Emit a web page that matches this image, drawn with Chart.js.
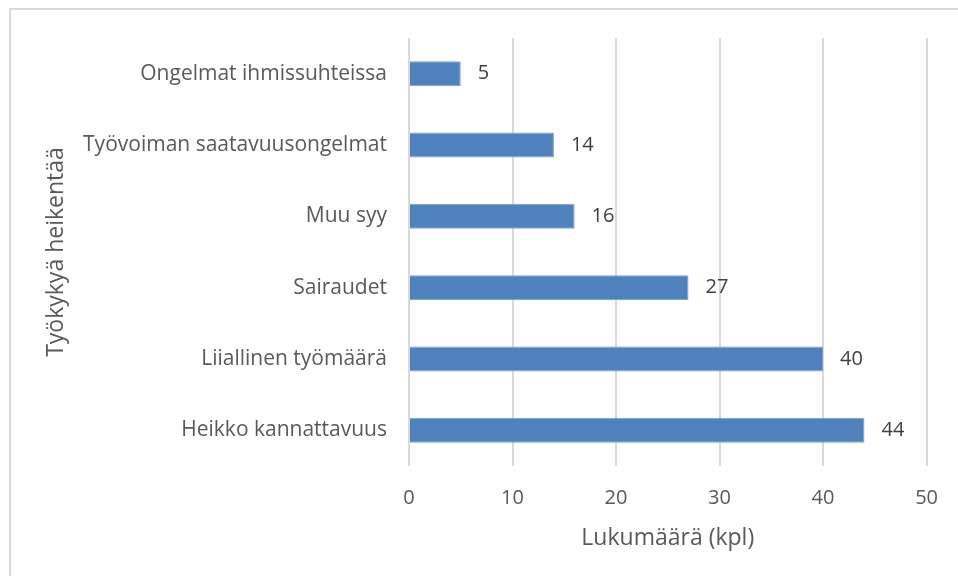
<!DOCTYPE html>
<html>
<head>
<meta charset="utf-8">
<script src="https://cdn.jsdelivr.net/npm/chart.js@4/dist/chart.umd.min.js"></script>
<style>
	html, body { margin: 0; padding: 0; background: #fff; overflow: hidden; }
	#frame { position: absolute; left: 9px; top: 8px; width: 2000px; height: 2000px; border-left: 2px solid #d9d9d9; border-top: 2px solid #d9d9d9; }
	#wrap { position: absolute; left: 0; top: 0; width: 958px; height: 576px; }
</style>
</head>
<body>
<div id="frame"></div>
<div id="wrap"><canvas id="chartReasons" width="958" height="576"></canvas></div>
<script>
'use strict'

// data, top to bottom
const categories = ['Ongelmat ihmissuhteissa', 'Työvoiman saatavuusongelmat', 'Muu syy', 'Sairaudet', 'Liiallinen työmäärä', 'Heikko kannattavuus'];
const counts = [5, 14, 16, 27, 40, 44];
const xTicks = [0, 10, 20, 30, 40, 50];

const colors = {
	bar: '#4f81bd',
	barEdge: '#7a9fcd',
	grid: '#d9d9d9',
	text: '#595959',
	valueText: '#404040',
};

const fontFamily = '"Open Sans", sans-serif';

// value labels right of each bar
const valueLabels = {
	id: 'valueLabels',
	afterDatasetsDraw(chart) {
		const { ctx } = chart;
		ctx.save();
		ctx.font = '20px ' + fontFamily;
		ctx.fillStyle = colors.valueText;
		ctx.textAlign = 'left';
		ctx.textBaseline = 'middle';
		chart.getDatasetMeta(0).data.forEach((bar, i) => {
			ctx.fillText(String(counts[i]), bar.x + 17, bar.y);
		});
		ctx.restore();
	},
};

new Chart(document.getElementById('chartReasons'), {
	type: 'bar',
	data: {
		labels: categories,
		datasets: [{
			data: counts,
			backgroundColor: colors.bar,
			borderColor: colors.barEdge,
			borderWidth: 1,
			barPercentage: 0.35,
			categoryPercentage: 1,
		}],
	},
	options: {
		indexAxis: 'y',
		responsive: false,
		animation: false,
		layout: {
			padding: { left: 0, top: 38, right: 27, bottom: 0 },
		},
		plugins: {
			legend: { display: false },
			tooltip: { enabled: false },
		},
		scales: {
			x: {
				min: 0,
				max: 50,
				afterBuildTicks: (scale) => { scale.ticks = xTicks.map(v => ({ value: v })); },
				afterFit: (scale) => { scale.height = 110; },
				grid: {
					color: colors.grid,
					lineWidth: 2,
					drawTicks: false,
				},
				border: { display: false },
				ticks: {
					padding: 20,
					color: colors.text,
					font: { family: fontFamily, size: 20 },
				},
				title: {
					display: true,
					text: 'Lukumäärä (kpl)',
					color: colors.text,
					font: { family: fontFamily, size: 23 },
					padding: { top: 0, bottom: 24 },
				},
			},
			y: {
				afterFit: (scale) => { scale.width = 409; },
				grid: { display: false, drawTicks: false },
				border: { display: false },
				ticks: {
					padding: 22,
					color: colors.text,
					font: { family: fontFamily, size: 21 },
				},
				title: {
					display: true,
					text: 'Työkykyä heikentää',
					color: colors.text,
					font: { family: fontFamily, size: 23 },
					padding: { top: 43, bottom: 0 },
				},
			},
		},
	},
	plugins: [valueLabels],
});
</script>
</body>
</html>
